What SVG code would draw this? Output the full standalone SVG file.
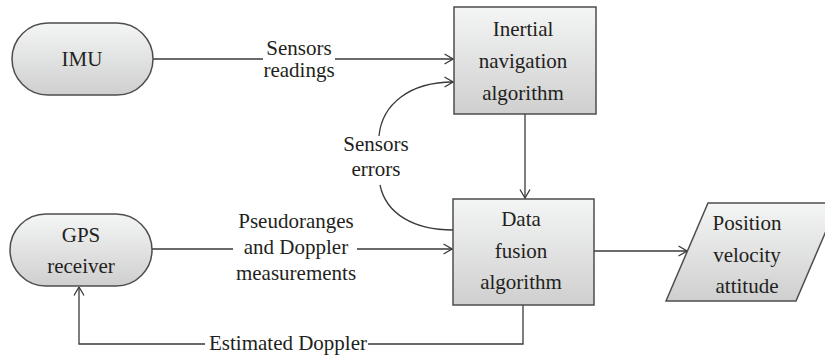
<svg xmlns="http://www.w3.org/2000/svg" width="825" height="358" viewBox="0 0 825 358">
<defs>
<linearGradient id="g" x1="0" y1="0" x2="0" y2="1">
<stop offset="0" stop-color="#f4f5f5"/>
<stop offset="1" stop-color="#cfcfcf"/>
</linearGradient>
<marker id="arr" viewBox="0 0 10 12" refX="9.5" refY="6" markerWidth="10" markerHeight="12" markerUnits="userSpaceOnUse" orient="auto">
<path d="M1,1 L9.5,6 L1,11" fill="none" stroke="#3a3a3a" stroke-width="1.3"/>
</marker>
<style>
.n{fill:url(#g);stroke:#4d4d4d;stroke-width:1.5}
.c{fill:none;stroke:#3a3a3a;stroke-width:1.3}
text{font-family:"Liberation Serif",serif;font-size:21px;fill:#231f20;text-anchor:middle}
</style>
</defs>
<g id="connectors">
<path class="c" d="M153,59 H263 M335,59 H453" marker-end="url(#arr)"/>
<path class="c" d="M379,136 C382,104 410,82 453,82" marker-end="url(#arr)"/>
<path class="c" d="M380,185 C386,214 414,230 453,230"/>
<path class="c" d="M525,114 V198" marker-end="url(#arr)"/>
<path class="c" d="M152,249 H233 M357,249 H452" marker-end="url(#arr)"/>
<path class="c" d="M594,251 H687" marker-end="url(#arr)"/>
<path class="c" d="M523,305 V344 H368 M205,344 H79 V287" marker-end="url(#arr)"/>
<text x="299" y="55">Sensors</text>
<text x="299" y="77">readings</text>
<text x="376" y="151">Sensors</text>
<text x="376" y="176">errors</text>
<text x="296" y="228">Pseudoranges</text>
<text x="296" y="254">and Doppler</text>
<text x="296" y="280">measurements</text>
<text x="288" y="350">Estimated Doppler</text>
</g>
<g id="imu">
<rect class="n" x="12" y="23" width="141" height="72" rx="36" ry="36"/>
<text x="82" y="66">IMU</text>
</g>
<g id="gps">
<rect class="n" x="10" y="214" width="142" height="72" rx="36" ry="36"/>
<text x="81" y="242">GPS</text>
<text x="81" y="273">receiver</text>
</g>
<g id="ins">
<rect class="n" x="454" y="7" width="142" height="107"/>
<text x="523" y="36">Inertial</text>
<text x="523" y="68">navigation</text>
<text x="523" y="100">algorithm</text>
</g>
<g id="fusion">
<rect class="n" x="453" y="199" width="141" height="106"/>
<text x="521" y="226">Data</text>
<text x="521" y="258">fusion</text>
<text x="521" y="289">algorithm</text>
</g>
<g id="output">
<polygon class="n" points="666,301 708,203 838,203 796,301"/>
<text x="747" y="230">Position</text>
<text x="747" y="262">velocity</text>
<text x="747" y="293">attitude</text>
</g>
</svg>
